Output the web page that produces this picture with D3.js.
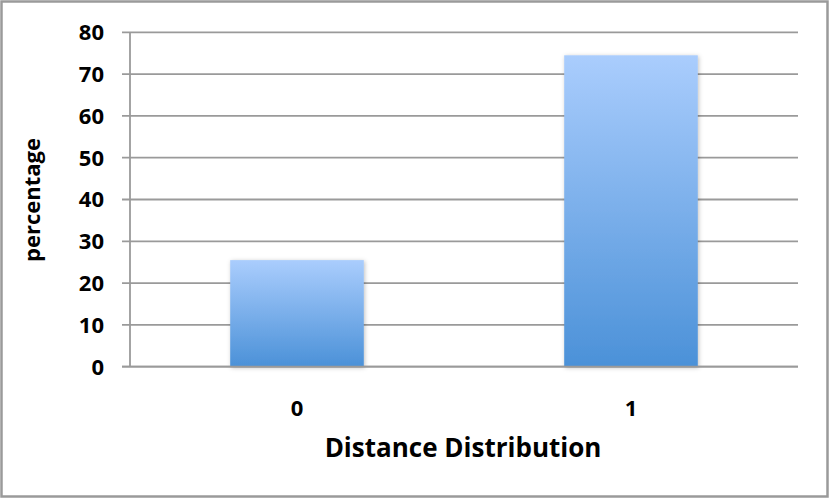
<!DOCTYPE html>
<html><head><meta charset="utf-8">
<script src="https://cdn.jsdelivr.net/npm/d3@7"></script>
<style>body{margin:0;background:#fff}</style>
</head><body>
<svg id="c" width="830" height="500"></svg>
<script>
const categories = ["0", "1"];
const values = [25.5, 74.5];
const yTicks = [0, 10, 20, 30, 40, 50, 60, 70, 80];
const xTitle = "Distance Distribution";
const yTitle = "percentage";

const svg = d3.select("#c");
const font = "'Open Sans', 'DejaVu Sans', sans-serif";
const m = {left:130, right:32, top:32.3, bottom:133.3};
const W = 830, H = 500;

svg.append("rect").attr("x",1.5).attr("y",1.5).attr("width",826).attr("height",495)
  .attr("fill","#fff").attr("stroke","#9a9a9a").attr("stroke-width",2.5);

const x = d3.scaleBand().domain(categories).range([m.left, W - m.right])
  .paddingInner(0.6).paddingOuter(0.3);
const y = d3.scaleLinear().domain([0,80]).range([H - m.bottom, m.top]);

const defs = svg.append("defs");
const g = defs.append("linearGradient").attr("id","bg").attr("x1",0).attr("y1",0).attr("x2",0).attr("y2",1);
g.append("stop").attr("offset","0%").attr("stop-color","#aacdfd");
g.append("stop").attr("offset","100%").attr("stop-color","#4b91d8");
const f = defs.append("filter").attr("id","sh").attr("x","-10%").attr("y","-10%").attr("width","120%").attr("height","120%");
f.append("feDropShadow").attr("dx",1).attr("dy",1).attr("stdDeviation",2).attr("flood-color","#000").attr("flood-opacity",0.25);

// grid
svg.append("g").selectAll("line").data(yTicks).join("line")
  .attr("x1", m.left - 8).attr("x2", W - m.right)
  .attr("y1", d => y(d)).attr("y2", d => y(d))
  .attr("stroke","#9a9a9a").attr("stroke-width",1.8);
// y axis line
svg.append("line").attr("x1",m.left).attr("x2",m.left).attr("y1",y(80)).attr("y2",y(0))
  .attr("stroke","#9a9a9a").attr("stroke-width",1.8);

// bars
svg.append("g").selectAll("rect").data(values).join("rect")
  .attr("x", (d,i) => x(categories[i])).attr("width", x.bandwidth())
  .attr("y", d => y(d)).attr("height", d => y(0) - y(d))
  .attr("fill","url(#bg)").attr("filter","url(#sh)");

// redraw baseline above bars
svg.append("line").attr("x1",m.left - 8).attr("x2",W - m.right).attr("y1",y(0)).attr("y2",y(0))
  .attr("stroke","#9a9a9a").attr("stroke-width",1.8);

// y tick labels
svg.append("g").selectAll("text").data(yTicks).join("text")
  .attr("x", 104).attr("y", d => y(d)).attr("dy","0.36em")
  .attr("text-anchor","end").attr("font-family",font).attr("font-weight","bold")
  .attr("font-size",22).attr("fill","#000").text(d => d);

// x tick labels
svg.append("g").selectAll("text").data(categories).join("text")
  .attr("x", d => x(d) + x.bandwidth()/2).attr("y", 416)
  .attr("text-anchor","middle").attr("font-family",font).attr("font-weight","bold")
  .attr("font-size",22).attr("fill","#000").text(d => d);

svg.append("text").attr("x", 463).attr("y", 457).attr("text-anchor","middle")
  .attr("font-family",font).attr("font-weight","bold").attr("font-size",26).attr("fill","#000")
  .text(xTitle);

svg.append("text").attr("transform","translate(40,200) rotate(-90)").attr("text-anchor","middle")
  .attr("font-family",font).attr("font-weight","bold").attr("font-size",22).attr("fill","#000")
  .text(yTitle);
</script>
</body></html>
